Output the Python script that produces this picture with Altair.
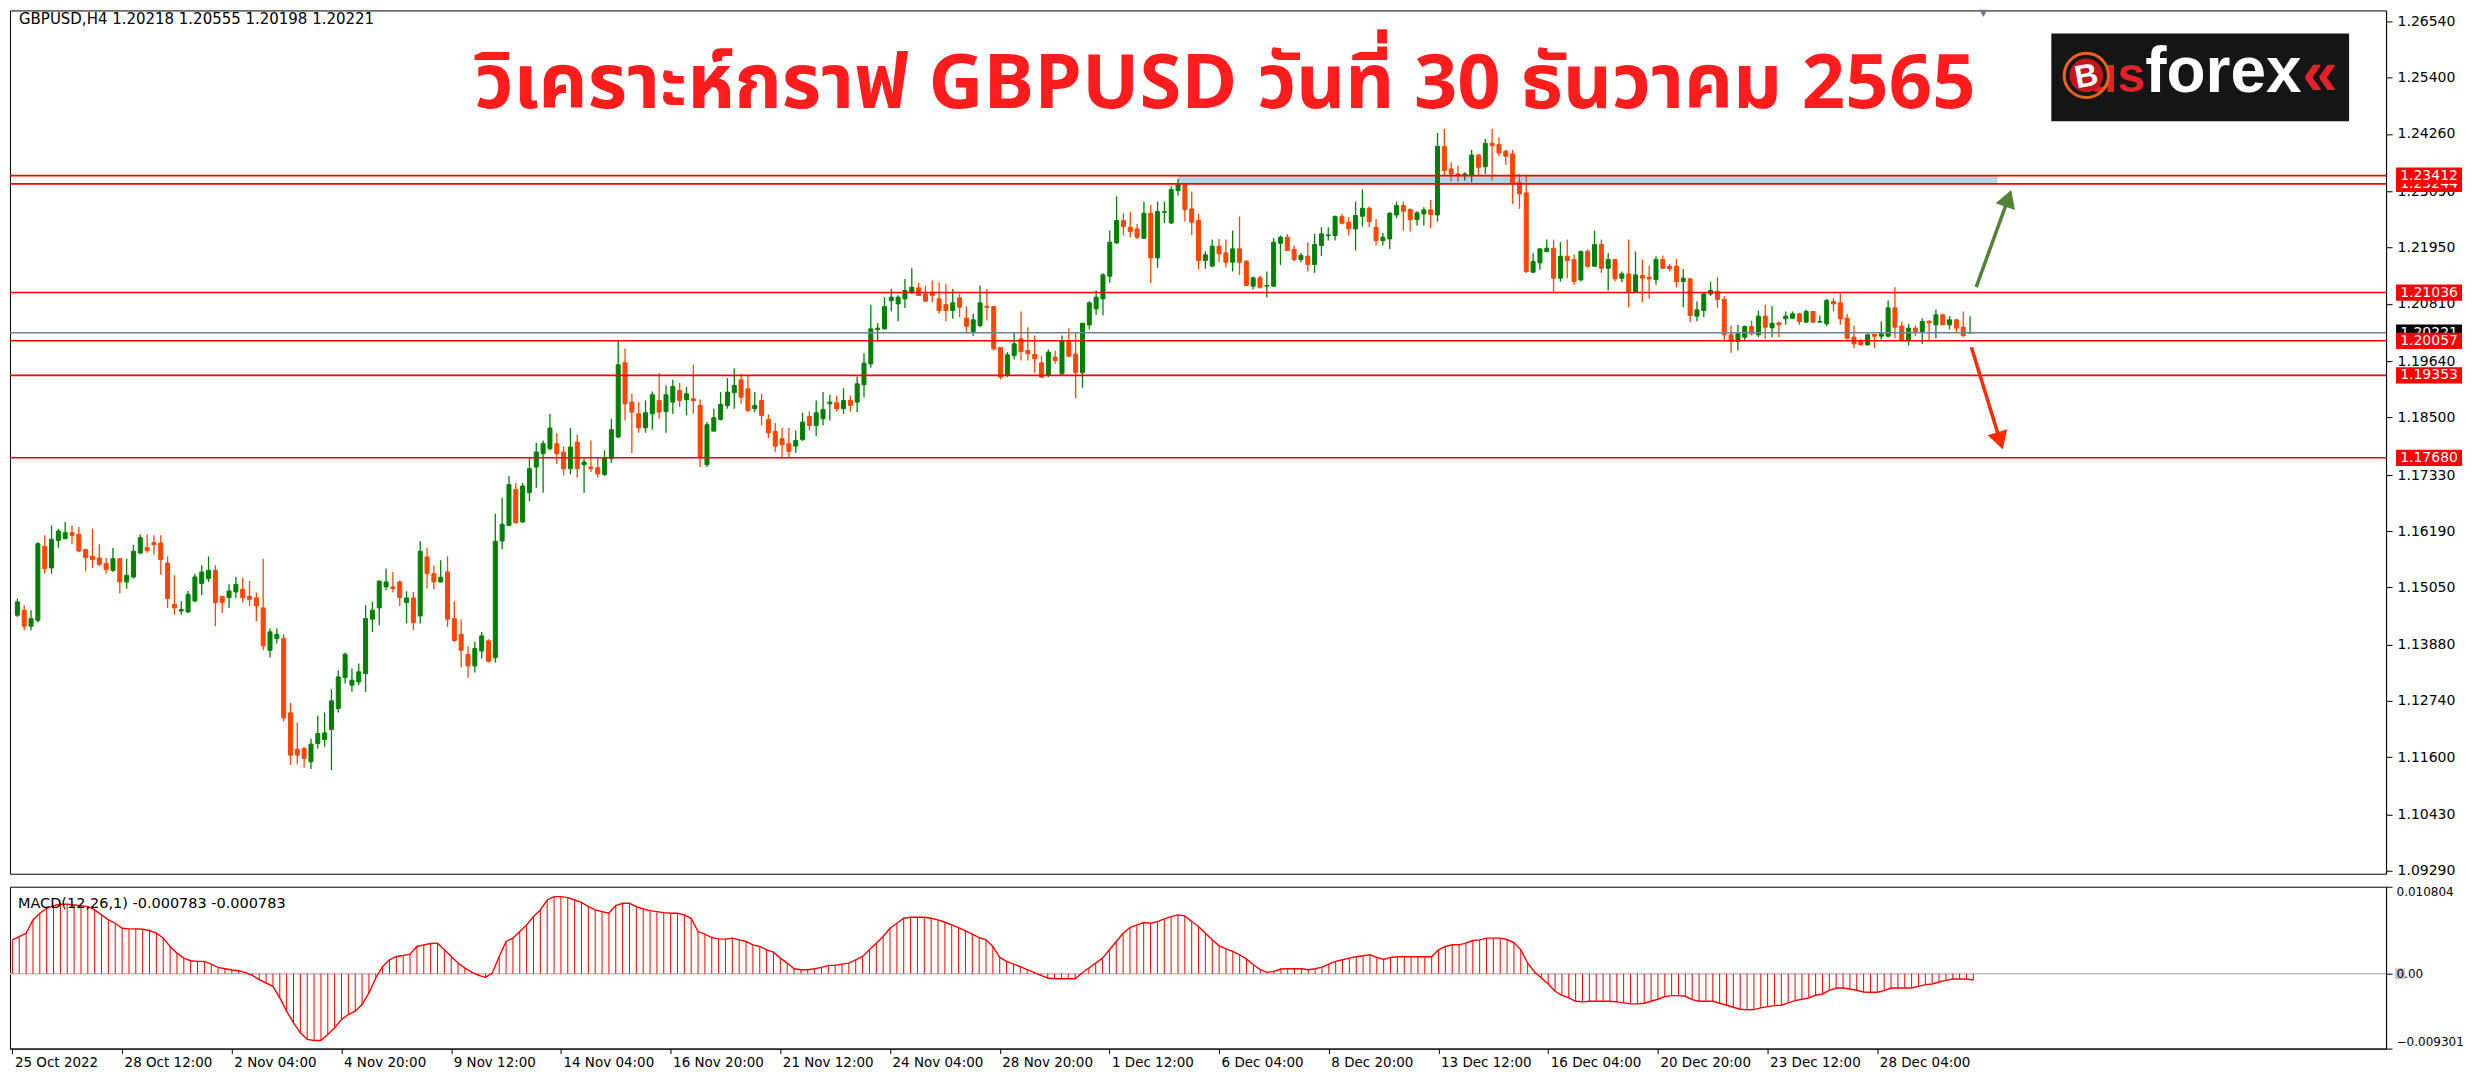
import altair as alt
import pandas as pd

HEADER = "GBPUSD,H4  1.20218 1.20555 1.20198 1.20221"
TITLE = "วิเคราะห์กราฟ GBPUSD วันที่ 30 ธันวาคม 2565"
MACD_LABEL = "MACD(12,26,1) -0.000783 -0.000783"

bar_open = [
    1.14481, 1.14582, 1.14258, 1.14379, 1.15881, 1.15442, 1.16003, 1.16037, 1.16159, 1.16125,
    1.15814, 1.15678, 1.15644, 1.15529, 1.15394, 1.15631, 1.15157, 1.15259, 1.15746, 1.15854,
    1.15956, 1.15949, 1.15542, 1.14697, 1.14569, 1.14549, 1.14772, 1.15124, 1.15225, 1.15394,
    1.14866, 1.14839, 1.14955, 1.15009, 1.14866, 1.14833, 1.14630, 1.13771, 1.14007, 1.14007,
    1.12499, 1.11761, 1.11775, 1.11504, 1.11876, 1.11957, 1.12161, 1.12587, 1.13216, 1.13061,
    1.13129, 1.13298, 1.14401, 1.14631, 1.15057, 1.15057, 1.15158, 1.14739, 1.14833, 1.14468,
    1.15666, 1.15327, 1.15158, 1.15361, 1.14414, 1.14096, 1.13683, 1.13453, 1.13758, 1.13961,
    1.13622, 1.15990, 1.16308, 1.17032, 1.16376, 1.16971, 1.17492, 1.17763, 1.17864, 1.17966,
    1.17797, 1.17458, 1.17999, 1.17539, 1.17492, 1.17478, 1.17343, 1.17661, 1.18101, 1.19610,
    1.18811, 1.18574, 1.18290, 1.18574, 1.18845, 1.18622, 1.18811, 1.19048, 1.18859, 1.18879,
    1.18744, 1.17539, 1.18222, 1.18459, 1.18743, 1.19000, 1.19264, 1.19081, 1.18676, 1.18845,
    1.18459, 1.18216, 1.18067, 1.17965, 1.17918, 1.18053, 1.18520, 1.18337, 1.18473, 1.18777,
    1.18797, 1.18676, 1.18845, 1.18811, 1.19163, 1.19589, 1.20286, 1.20299, 1.20874, 1.20806,
    1.20908, 1.21043, 1.21131, 1.21009, 1.21043, 1.20908, 1.20793, 1.20671, 1.20928, 1.20516,
    1.20245, 1.20367, 1.20759, 1.20752, 1.19920, 1.19352, 1.19758, 1.20096, 1.19860, 1.19778,
    1.19609, 1.19352, 1.19724, 1.19386, 1.20042, 1.19785, 1.19406, 1.20380, 1.20705, 1.20908,
    1.21369, 1.22045, 1.22498, 1.22363, 1.22329, 1.22140, 1.22647, 1.21741, 1.22667, 1.22451,
    1.23108, 1.23222, 1.22735, 1.22498, 1.21687, 1.21572, 1.21978, 1.21842, 1.21653, 1.21923,
    1.21673, 1.21166, 1.21335, 1.21166, 1.21166, 1.22038, 1.22160, 1.21910, 1.21707, 1.21775,
    1.21606, 1.21991, 1.22194, 1.22194, 1.22579, 1.22465, 1.22329, 1.22586, 1.22749, 1.22363,
    1.22092, 1.22126, 1.22613, 1.22803, 1.22722, 1.22519, 1.22634, 1.22715, 1.22613, 1.24007,
    1.23547, 1.23445, 1.23412, 1.23412, 1.23831, 1.23594, 1.24068, 1.24041, 1.23906, 1.23851,
    1.23276, 1.23060, 1.21450, 1.21639, 1.21869, 1.21937, 1.21328, 1.21774, 1.21707, 1.21294,
    1.21876, 1.21571, 1.22011, 1.21531, 1.21707, 1.21328, 1.21416, 1.21044, 1.21382, 1.21348,
    1.21301, 1.21707, 1.21571, 1.21571, 1.21260, 1.21314, 1.20557, 1.20672, 1.21010, 1.21057,
    1.20895, 1.20178, 1.20043, 1.20130, 1.20347, 1.20178, 1.20557, 1.20320, 1.20421, 1.20503,
    1.20516, 1.20604, 1.20435, 1.20651, 1.20435, 1.20401, 1.20854, 1.20827, 1.20516, 1.20130,
    1.20043, 1.19975, 1.20184, 1.20150, 1.20150, 1.20726, 1.20354, 1.20063, 1.20313, 1.20245,
    1.20455, 1.20381, 1.20584, 1.20381, 1.20482, 1.20333, 1.20218,
]
bar_high = [
    1.14819, 1.14684, 1.14582, 1.15963, 1.16105, 1.16307, 1.16240, 1.16375, 1.16307, 1.16274,
    1.15834, 1.16240, 1.15922, 1.15644, 1.15847, 1.15644, 1.15631, 1.15915, 1.16125, 1.16125,
    1.16105, 1.16105, 1.15678, 1.15293, 1.14772, 1.14975, 1.15326, 1.15496, 1.15678, 1.15496,
    1.14866, 1.15110, 1.15259, 1.15245, 1.15178, 1.14941, 1.15631, 1.14210, 1.14210, 1.14095,
    1.12708, 1.12303, 1.11809, 1.11978, 1.12438, 1.12506, 1.12979, 1.13365, 1.13723, 1.13400,
    1.13501, 1.14685, 1.14752, 1.15192, 1.15429, 1.15361, 1.15192, 1.14969, 1.14955, 1.15984,
    1.15854, 1.15497, 1.15598, 1.15679, 1.14766, 1.14394, 1.13853, 1.13941, 1.14143, 1.13995,
    1.16545, 1.16870, 1.17309, 1.17167, 1.17167, 1.17675, 1.17986, 1.18033, 1.18568, 1.18182,
    1.17912, 1.18284, 1.18148, 1.17661, 1.18033, 1.17675, 1.17830, 1.18473, 1.20050, 1.19900,
    1.18980, 1.18811, 1.18845, 1.19028, 1.19400, 1.19150, 1.19265, 1.19197, 1.19116, 1.19569,
    1.18865, 1.18405, 1.18676, 1.19014, 1.19298, 1.19501, 1.19386, 1.19352, 1.19014, 1.18980,
    1.18561, 1.18385, 1.18283, 1.18283, 1.18236, 1.18594, 1.18621, 1.18845, 1.19014, 1.18960,
    1.18946, 1.19095, 1.18946, 1.19332, 1.19805, 1.20786, 1.20414, 1.20942, 1.21111, 1.20980,
    1.21314, 1.21530, 1.21233, 1.21179, 1.21280, 1.21246, 1.21212, 1.21111, 1.21009, 1.20759,
    1.20604, 1.21179, 1.21111, 1.20759, 1.19920, 1.19826, 1.20211, 1.20651, 1.20333, 1.20164,
    1.19745, 1.19880, 1.19860, 1.20164, 1.20313, 1.20232, 1.20414, 1.20861, 1.21077, 1.21429,
    1.22295, 1.22992, 1.22647, 1.22681, 1.22431, 1.22884, 1.22816, 1.22884, 1.22884, 1.23195,
    1.23344, 1.23240, 1.23087, 1.22634, 1.21870, 1.22113, 1.22126, 1.22113, 1.22295, 1.22579,
    1.21690, 1.21362, 1.21382, 1.21463, 1.22140, 1.22194, 1.22228, 1.21991, 1.21842, 1.22059,
    1.22228, 1.22363, 1.22363, 1.22600, 1.22634, 1.22566, 1.22884, 1.23128, 1.22783, 1.22532,
    1.22248, 1.22668, 1.22884, 1.22884, 1.22749, 1.22688, 1.22769, 1.22918, 1.24278, 1.24359,
    1.23682, 1.23615, 1.23479, 1.23933, 1.23845, 1.24156, 1.24359, 1.24190, 1.23939, 1.23933,
    1.23445, 1.23432, 1.21835, 1.21937, 1.22113, 1.22113, 1.22059, 1.22113, 1.21808, 1.21889,
    1.21910, 1.22295, 1.22113, 1.21842, 1.21720, 1.21463, 1.22113, 1.21869, 1.21707, 1.21585,
    1.21774, 1.21788, 1.21619, 1.21720, 1.21517, 1.21330, 1.20854, 1.21020, 1.21247, 1.21348,
    1.20963, 1.20367, 1.20381, 1.20367, 1.20469, 1.20672, 1.20787, 1.20760, 1.20448, 1.20651,
    1.20651, 1.20624, 1.20692, 1.20660, 1.20570, 1.20908, 1.20922, 1.21010, 1.20604, 1.20367,
    1.20096, 1.20198, 1.20198, 1.20448, 1.20875, 1.21145, 1.20448, 1.20401, 1.20367, 1.20516,
    1.20469, 1.20692, 1.20604, 1.20557, 1.20503, 1.20651, 1.20555,
]
bar_low = [
    1.14447, 1.14177, 1.14177, 1.14332, 1.15326, 1.15326, 1.15854, 1.16023, 1.15922, 1.15766,
    1.15374, 1.15442, 1.15482, 1.15326, 1.15360, 1.14921, 1.15022, 1.15225, 1.15719, 1.15753,
    1.15712, 1.15306, 1.14630, 1.14494, 1.14494, 1.14528, 1.14752, 1.14887, 1.15157, 1.14258,
    1.14528, 1.14630, 1.14833, 1.14738, 1.14670, 1.14359, 1.13771, 1.13622, 1.13906, 1.12330,
    1.11437, 1.11450, 1.11389, 1.11356, 1.11775, 1.11809, 1.11335, 1.12506, 1.13094, 1.12926,
    1.13061, 1.12926, 1.14143, 1.14279, 1.14989, 1.14942, 1.14671, 1.14313, 1.14177, 1.14313,
    1.15023, 1.15009, 1.15145, 1.14245, 1.13941, 1.13426, 1.13210, 1.13318, 1.13602, 1.13521,
    1.13521, 1.15821, 1.16295, 1.16342, 1.16362, 1.16795, 1.17073, 1.16971, 1.17830, 1.17560,
    1.17323, 1.17343, 1.17276, 1.16971, 1.17391, 1.17282, 1.17309, 1.17573, 1.18081, 1.18439,
    1.17776, 1.18189, 1.18189, 1.18257, 1.18473, 1.18189, 1.18574, 1.18710, 1.18541, 1.18574,
    1.17492, 1.17492, 1.18216, 1.18439, 1.18676, 1.18676, 1.18777, 1.18608, 1.18608, 1.18337,
    1.18080, 1.17796, 1.17695, 1.17695, 1.17783, 1.18019, 1.18236, 1.18121, 1.18337, 1.18439,
    1.18622, 1.18574, 1.18622, 1.18608, 1.18912, 1.19508, 1.20049, 1.20286, 1.20658, 1.20455,
    1.20725, 1.21009, 1.20976, 1.20840, 1.20840, 1.20604, 1.20455, 1.20502, 1.20536, 1.20198,
    1.20150, 1.20333, 1.20468, 1.19860, 1.19271, 1.19318, 1.19677, 1.19657, 1.19657, 1.19406,
    1.19298, 1.19318, 1.19589, 1.19366, 1.19724, 1.18892, 1.19102, 1.20286, 1.20583, 1.20570,
    1.21233, 1.22025, 1.22194, 1.22160, 1.22126, 1.22126, 1.21227, 1.21538, 1.22451, 1.22431,
    1.23006, 1.22478, 1.22207, 1.21504, 1.21518, 1.21572, 1.21653, 1.21552, 1.21463, 1.21396,
    1.21166, 1.21098, 1.21112, 1.20942, 1.21150, 1.21599, 1.21880, 1.21673, 1.21653, 1.21463,
    1.21436, 1.21775, 1.22092, 1.22092, 1.22417, 1.22194, 1.21890, 1.22377, 1.22363, 1.21991,
    1.21991, 1.21923, 1.22546, 1.22295, 1.22275, 1.22397, 1.22397, 1.22343, 1.22478, 1.23412,
    1.23290, 1.23290, 1.23310, 1.23276, 1.23412, 1.23445, 1.23310, 1.23804, 1.23628, 1.22837,
    1.22735, 1.21436, 1.21436, 1.21497, 1.21856, 1.21044, 1.21260, 1.21328, 1.21193, 1.21260,
    1.21531, 1.21560, 1.21436, 1.21078, 1.21260, 1.21247, 1.20739, 1.21030, 1.20841, 1.20908,
    1.21193, 1.21517, 1.21463, 1.21145, 1.20739, 1.20435, 1.20455, 1.20536, 1.20963, 1.20726,
    1.20043, 1.19813, 1.19860, 1.20063, 1.20164, 1.20130, 1.20096, 1.20130, 1.20130, 1.20381,
    1.20503, 1.20381, 1.20421, 1.20421, 1.20430, 1.20354, 1.20651, 1.20381, 1.20083, 1.19907,
    1.19961, 1.19961, 1.19907, 1.20083, 1.20130, 1.20110, 1.20043, 1.19961, 1.20150, 1.19995,
    1.20063, 1.20110, 1.20381, 1.20286, 1.20232, 1.20130, 1.20198,
]
bar_close = [
    1.14752, 1.14258, 1.14413, 1.15935, 1.15428, 1.16023, 1.16192, 1.16159, 1.16105, 1.15787,
    1.15651, 1.15617, 1.15516, 1.15408, 1.15631, 1.15157, 1.15293, 1.15780, 1.16057, 1.15800,
    1.15915, 1.15611, 1.14819, 1.14630, 1.14596, 1.14907, 1.15259, 1.15360, 1.15394, 1.14738,
    1.14738, 1.14975, 1.15110, 1.14839, 1.14806, 1.14670, 1.13859, 1.14143, 1.14095, 1.12397,
    1.11640, 1.11640, 1.11572, 1.11863, 1.12079, 1.12093, 1.12742, 1.13229, 1.13689, 1.13162,
    1.13332, 1.14414, 1.14583, 1.15172, 1.15158, 1.15023, 1.14840, 1.14833, 1.14333, 1.15781,
    1.15327, 1.15158, 1.15253, 1.14401, 1.13968, 1.13771, 1.13453, 1.13805, 1.14062, 1.13548,
    1.15984, 1.16329, 1.17134, 1.16362, 1.17107, 1.17458, 1.17797, 1.17966, 1.18284, 1.17763,
    1.17458, 1.17898, 1.17458, 1.17594, 1.17458, 1.17350, 1.17675, 1.18250, 1.19569, 1.18777,
    1.18608, 1.18290, 1.18595, 1.18960, 1.18608, 1.18960, 1.19129, 1.18845, 1.18980, 1.18838,
    1.17695, 1.18351, 1.18493, 1.18764, 1.19014, 1.19149, 1.18912, 1.18642, 1.18743, 1.18540,
    1.18188, 1.17918, 1.17945, 1.17810, 1.18033, 1.18405, 1.18337, 1.18594, 1.18662, 1.18811,
    1.18676, 1.18845, 1.18743, 1.19183, 1.19602, 1.20299, 1.20313, 1.20752, 1.20942, 1.20942,
    1.21077, 1.21145, 1.20976, 1.20861, 1.20976, 1.20671, 1.20671, 1.20827, 1.20739, 1.20353,
    1.20482, 1.20827, 1.20732, 1.19893, 1.19318, 1.19771, 1.19995, 1.19839, 1.19792, 1.19690,
    1.19318, 1.19826, 1.19657, 1.20049, 1.19744, 1.19406, 1.20414, 1.20827, 1.20942, 1.21395,
    1.22059, 1.22498, 1.22377, 1.22275, 1.22160, 1.22647, 1.21741, 1.22681, 1.22681, 1.23128,
    1.23222, 1.22722, 1.22465, 1.21687, 1.21802, 1.21978, 1.21822, 1.21653, 1.21923, 1.21653,
    1.21179, 1.21335, 1.21145, 1.21179, 1.22059, 1.22160, 1.21890, 1.21707, 1.21788, 1.21606,
    1.22011, 1.22228, 1.22208, 1.22579, 1.22444, 1.22329, 1.22600, 1.22749, 1.22478, 1.22092,
    1.22160, 1.22647, 1.22803, 1.22688, 1.22519, 1.22654, 1.22715, 1.22620, 1.24007, 1.23513,
    1.23445, 1.23412, 1.23445, 1.23831, 1.23581, 1.24068, 1.24021, 1.23872, 1.23804, 1.23242,
    1.23039, 1.21463, 1.21666, 1.21923, 1.21937, 1.21328, 1.21774, 1.21686, 1.21260, 1.21869,
    1.21571, 1.22011, 1.21531, 1.21707, 1.21314, 1.21416, 1.21044, 1.21396, 1.21328, 1.21314,
    1.21707, 1.21531, 1.21517, 1.21260, 1.21328, 1.20570, 1.20685, 1.21010, 1.21078, 1.20895,
    1.20178, 1.20043, 1.20198, 1.20347, 1.20198, 1.20557, 1.20333, 1.20414, 1.20381, 1.20557,
    1.20604, 1.20448, 1.20651, 1.20435, 1.20448, 1.20875, 1.20807, 1.20503, 1.20110, 1.19995,
    1.19975, 1.20178, 1.20150, 1.20198, 1.20726, 1.20333, 1.20063, 1.20313, 1.20245, 1.20448,
    1.20421, 1.20584, 1.20381, 1.20482, 1.20313, 1.20164, 1.20221,
]
# MACD(12,26,1) main value per bar, in units of 0.0001
macd_e4 = [
    42.06, 46.19, 50.31, 66.81, 75.06, 81.24, 84.54, 86.19, 86.19, 85.37,
    84.54, 83.30, 79.18, 72.99, 66.81, 62.68, 56.50, 55.67, 55.67, 55.26,
    53.61, 50.31, 44.13, 33.82, 25.57, 19.38, 16.08, 15.26, 15.26, 11.96,
    7.84, 6.19, 4.54, 3.71, 1.24, -2.06, -7.42, -11.55, -15.67, -30.11,
    -46.60, -61.04, -73.41, -81.66, -82.89, -82.89, -75.47, -67.22, -56.91, -50.73,
    -46.60, -38.35, -23.92, -5.36, 9.07, 17.32, 21.44, 22.68, 24.33, 33.82,
    35.88, 37.53, 37.94, 29.69, 21.44, 13.20, 7.01, 2.06, -2.06, -4.54,
    0.82, 21.44, 40.00, 44.13, 52.37, 60.62, 70.93, 79.18, 91.55, 95.68,
    95.68, 94.44, 91.55, 88.67, 83.30, 79.18, 77.12, 75.06, 84.54, 87.43,
    87.43, 83.30, 80.42, 78.36, 77.12, 75.88, 75.06, 75.06, 72.99, 68.87,
    52.37, 49.08, 44.95, 43.30, 42.89, 44.13, 42.06, 40.00, 35.88, 33.82,
    29.69, 26.81, 19.38, 13.20, 6.19, 4.95, 4.95, 6.19, 7.84, 10.31,
    10.31, 11.96, 13.20, 17.32, 21.44, 29.69, 37.94, 46.19, 56.50, 62.68,
    68.87, 70.11, 70.11, 70.11, 68.87, 66.81, 63.92, 60.62, 57.32, 53.20,
    49.08, 44.95, 42.06, 33.82, 20.21, 15.26, 11.96, 8.66, 4.95, 1.65,
    -2.06, -5.36, -6.19, -6.19, -6.19, -6.19, 0.82, 7.01, 13.20, 19.38,
    29.69, 40.00, 50.31, 57.32, 60.62, 63.51, 62.68, 64.75, 68.05, 70.93,
    72.99, 71.76, 64.75, 58.56, 50.31, 42.06, 34.64, 30.93, 27.63, 23.51,
    18.15, 11.13, 4.95, 1.65, 2.89, 5.77, 6.19, 6.19, 6.19, 4.95,
    6.19, 8.25, 11.96, 15.26, 17.32, 19.38, 21.03, 22.27, 23.51, 20.21,
    17.73, 20.21, 21.03, 21.03, 21.03, 21.03, 21.03, 21.03, 29.69, 33.82,
    35.88, 35.88, 37.94, 41.24, 42.06, 44.13, 44.13, 44.13, 42.48, 38.77,
    29.69, 13.20, 2.06, -5.36, -12.78, -21.86, -26.81, -30.11, -34.23, -35.05,
    -34.23, -34.23, -34.23, -34.23, -35.05, -36.29, -37.53, -37.53, -36.70, -34.23,
    -31.75, -28.46, -27.22, -27.22, -28.04, -32.17, -34.23, -34.23, -34.23, -36.70,
    -39.18, -41.65, -44.13, -44.95, -44.54, -42.48, -40.83, -39.59, -39.18, -36.29,
    -33.40, -31.75, -30.11, -26.81, -25.16, -20.62, -17.73, -17.73, -18.97, -20.62,
    -22.68, -23.09, -23.09, -21.03, -17.73, -17.73, -17.73, -17.73, -15.67, -13.61,
    -12.78, -10.31, -8.25, -6.60, -6.60, -6.60, -7.83,
]

time_labels = [
    "25 Oct 2022", "28 Oct 12:00", "2 Nov 04:00", "4 Nov 20:00", "9 Nov 12:00",
    "14 Nov 04:00", "16 Nov 20:00", "21 Nov 12:00", "24 Nov 04:00", "28 Nov 20:00",
    "1 Dec 12:00", "6 Dec 04:00", "8 Dec 20:00", "13 Dec 12:00", "16 Dec 04:00",
    "20 Dec 20:00", "23 Dec 12:00", "28 Dec 04:00",
]
BARS_PER_LABEL = 16
price_ticks = [1.26540, 1.25400, 1.24260, 1.23090, 1.21950, 1.20810, 1.19640, 1.18500,
               1.17330, 1.16190, 1.15050, 1.13880, 1.12740, 1.11600, 1.10430, 1.09290]
macd_ticks = [0.010804, 0.0, -0.009301]

level_prices = [1.23244, 1.23412, 1.21036, 1.20057, 1.19353, 1.17680]
current_price = 1.20221
zone_bars = [170, 290]
zone_prices = [1.23244, 1.23412]
arrow_start_bar = [286.9, 286.2]
arrow_start_price = [1.21145, 1.19927]
arrow_head_bar = [291.6, 290.4]
arrow_head_price = [1.22951, 1.18025]
arrow_angle = [19.6, 163.0]
arrow_colors = ["#548235", "#ff2a00"]

# ---------------- layout ----------------
W = 2378
H_MAIN = 864
H_MACD = 162
X_DOMAIN = [-0.35, 346.2]
Y_DOMAIN = [1.09231, 1.26767]
M_DOMAIN = [-0.009301, 0.010804]
FONT = "DejaVu Sans"
RED = "#ff0000"
AXIS_FS = 14
TIME_FS = 13.5
MACD_FS = 12


def xs():
    return alt.Scale(domain=X_DOMAIN, nice=False, zero=False)


def ys():
    return alt.Scale(domain=Y_DOMAIN, nice=False, zero=False)


def ms():
    return alt.Scale(domain=M_DOMAIN, nice=False, zero=False)


price_axis = alt.Axis(orient="right", values=price_ticks, format=".5f", title=None, grid=False,
                      tickSize=6, tickColor="black", domainColor="black", labelColor="black",
                      labelFont=FONT, labelFontSize=AXIS_FS, labelPadding=5, labelOverlap=False,
                      labelFlush=False)
labels_js = "[" + ",".join("'" + s + "'" for s in time_labels) + "]"
time_axis = alt.Axis(orient="bottom", values=[k * BARS_PER_LABEL for k in range(len(time_labels))],
                     labelExpr=f"{labels_js}[round(datum.value / {BARS_PER_LABEL})]",
                     title=None, grid=False, tickSize=5, tickColor="black", domainColor="black",
                     labelColor="black", labelFont=FONT, labelFontSize=TIME_FS, labelAlign="left",
                     labelOffset=2, labelPadding=2, labelOverlap=False, labelFlush=False,
                     labelBound=False)
macd_axis = alt.Axis(orient="right", values=macd_ticks,
                     labelExpr="datum.value == 0 ? '0.00' : format(datum.value, '.6f')",
                     title=None, grid=False, tickSize=6, tickColor="black", domainColor="black",
                     labelColor="black", labelFont=FONT, labelFontSize=MACD_FS, labelPadding=4,
                     labelFlush=True, labelOverlap=False, zindex=1)


def PX(field):
    return alt.X(field, scale=xs(), axis=None)


def PY(field):
    return alt.Y(field, scale=ys(), axis=price_axis)


candles = pd.DataFrame({
    "i": list(range(len(bar_close))),
    "o": bar_open, "h": bar_high, "l": bar_low, "c": bar_close,
})
candles["dir"] = ["up" if c >= o else "down" for o, c in zip(bar_open, bar_close)]
cscale = alt.Scale(domain=["up", "down"], range=["#008000", "#ff4500"])

zone_df = pd.DataFrame({"x0": [zone_bars[0]], "x1": [zone_bars[1]],
                        "lo": [zone_prices[0]], "hi": [zone_prices[1]]})
zone = alt.Chart(zone_df).mark_rect(color="#add8e6").encode(
    x=PX("x0:Q"), x2="x1:Q", y=PY("lo:Q"), y2="hi:Q")

wicks = alt.Chart(candles).mark_rule(strokeWidth=1.3).encode(
    x=PX("i:Q"), y=PY("l:Q"), y2="h:Q",
    color=alt.Color("dir:N", scale=cscale, legend=None))

bodies = alt.Chart(candles).mark_bar(width=4, strokeWidth=1).encode(
    x=PX("i:Q"), y=PY("o:Q"), y2="c:Q",
    color=alt.Color("dir:N", scale=cscale, legend=None),
    stroke=alt.Stroke("dir:N", scale=cscale, legend=None))

levels = alt.Chart(pd.DataFrame({"p": level_prices})).mark_rule(color=RED, strokeWidth=1.6).encode(
    y=PY("p:Q"))
cur_line = alt.Chart(pd.DataFrame({"p": [current_price]})).mark_rule(color="#708090", strokeWidth=1.6).encode(
    y=PY("p:Q"))

arrow_df = pd.DataFrame({"x0": arrow_start_bar, "y0": arrow_start_price,
                         "x1": arrow_head_bar, "y1": arrow_head_price,
                         "ang": arrow_angle, "col": arrow_colors})
shafts = alt.Chart(arrow_df).mark_rule(strokeWidth=3.5).encode(
    x=PX("x0:Q"), x2="x1:Q", y=PY("y0:Q"), y2="y1:Q",
    color=alt.Color("col:N", scale=None))
heads = alt.Chart(arrow_df).mark_point(shape="triangle-up", filled=True, size=420, opacity=1).encode(
    x=PX("x1:Q"), y=PY("y1:Q"),
    angle=alt.Angle("ang:Q", scale=None),
    color=alt.Color("col:N", scale=None))

# price tags on the right axis (drawn in order so later ones cover earlier ones)
tag_prices = [current_price, 1.23244, 1.23412, 1.21036, 1.20057, 1.19353, 1.17680]
tag_colors = ["#000000", RED, RED, RED, RED, RED, RED]
tag_layers = []
for p, col in zip(tag_prices, tag_colors):
    d = pd.DataFrame({"p": [p], "bg": [col]})
    box = alt.Chart(d).transform_calculate(
        lo="datum.p - 0.00165", hi="datum.p + 0.00165"
    ).mark_rect().encode(
        x=alt.value(W + 10), x2=alt.value(W + 76),
        y=PY("lo:Q"), y2="hi:Q",
        color=alt.Color("bg:N", scale=None))
    txt = alt.Chart(d).transform_calculate(lbl="format(datum.p, '.5f')").mark_text(
        color="white", font=FONT, fontSize=AXIS_FS).encode(
        x=alt.value(W + 43), y=PY("p:Q"), text="lbl:N")
    tag_layers += [box, txt]


def one(s):
    return pd.DataFrame({"t": [s]})


header = alt.Chart(one(HEADER)).mark_text(align="left", baseline="alphabetic", font=FONT,
                                          fontSize=15, color="black").encode(
    x=alt.value(9), y=alt.value(14), text="t:N")
title = alt.Chart(one(TITLE)).mark_text(align="center", baseline="alphabetic",
                                        font="Noto Sans Thai, Noto Sans, sans-serif",
                                        fontSize=76, fontWeight="bold", color="#ff1c1c").encode(
    x=alt.value(1216), y=alt.value(98), text="t:N")
shift_marker = alt.Chart(one("")).mark_point(shape="triangle-down", filled=True, size=70,
                                             color="#6e7a8a", opacity=1).encode(
    x=alt.value(1975), y=alt.value(3))

# logo
logo_box = alt.Chart(one("")).mark_rect(color="#151515").encode(
    x=alt.value(2043), x2=alt.value(2341), y=alt.value(23), y2=alt.value(111))
logo_us = alt.Chart(one("us")).mark_text(align="right", baseline="alphabetic", font="Liberation Sans",
                                         fontSize=50, fontWeight="bold", color="#e4202b").encode(
    x=alt.value(2137), y=alt.value(82), text="t:N")
logo_ring = alt.Chart(one("")).mark_point(shape="circle", filled=False, size=1960, strokeWidth=3,
                                          color="#e8641e", opacity=1).encode(
    x=alt.value(2078), y=alt.value(65))
logo_disc = alt.Chart(one("")).mark_point(shape="circle", filled=True, size=1130,
                                          color="#c4161c", opacity=1).encode(
    x=alt.value(2078), y=alt.value(65))
logo_b = alt.Chart(one("B")).mark_text(font="Liberation Sans", fontSize=32, fontWeight="bold",
                                       color="white", angle=350).encode(
    x=alt.value(2078), y=alt.value(66), text="t:N")
logo_forex = alt.Chart(one("forex")).mark_text(align="left", baseline="alphabetic", font="Liberation Sans",
                                               fontSize=64, fontWeight="bold", color="white").encode(
    x=alt.value(2137), y=alt.value(82), text="t:N")
logo_chev = alt.Chart(one("«")).mark_text(align="left", baseline="alphabetic", font="Liberation Sans",
                                          fontSize=64, fontWeight="bold", color="#e4202b").encode(
    x=alt.value(2294), y=alt.value(84), text="t:N")

main = alt.layer(
    zone, wicks, bodies, levels, cur_line, shafts, heads, *tag_layers,
    header, title, shift_marker, logo_box, logo_us, logo_ring, logo_disc, logo_b, logo_forex, logo_chev,
).properties(width=W, height=H_MAIN)

# ---------------- MACD panel ----------------
macd_df = pd.DataFrame({"i": list(range(len(macd_e4))), "m": [v * 1e-4 for v in macd_e4]})
macd_df["z"] = 0.0


def MX(field):
    return alt.X(field, scale=xs(), axis=time_axis)


def MY(field):
    return alt.Y(field, scale=ms(), axis=macd_axis)


zero_box = alt.Chart(pd.DataFrame({"lo": [-0.00068], "hi": [0.00068]})).mark_rect(color="#c8c8c8").encode(
    x=alt.value(W + 9), x2=alt.value(W + 19), y=MY("lo:Q"), y2="hi:Q")
zero_line = alt.Chart(pd.DataFrame({"z": [0.0]})).mark_rule(color="#c0c0c0", strokeWidth=1.6).encode(
    y=MY("z:Q"))
hist = alt.Chart(macd_df).mark_rule(color=RED, strokeWidth=1).encode(
    x=MX("i:Q"), y=MY("z:Q"), y2="m:Q")
macd_line = alt.Chart(macd_df).mark_line(color=RED, strokeWidth=1.4).encode(
    x=MX("i:Q"), y=MY("m:Q"))
macd_text = alt.Chart(one(MACD_LABEL)).mark_text(align="left", baseline="alphabetic", font=FONT,
                                                 fontSize=14.5, color="black").encode(
    x=alt.value(8), y=alt.value(21), text="t:N")

macd = alt.layer(zero_box, zero_line, hist, macd_line, macd_text).properties(width=W, height=H_MACD)

chart = alt.vconcat(main, macd, spacing=6).properties(
    padding={"left": 0, "top": 0, "right": 0, "bottom": 0}, background="white"
).configure_view(stroke="black", strokeWidth=1)

chart.save("out.html", embed_options={"renderer": "svg", "actions": False})
